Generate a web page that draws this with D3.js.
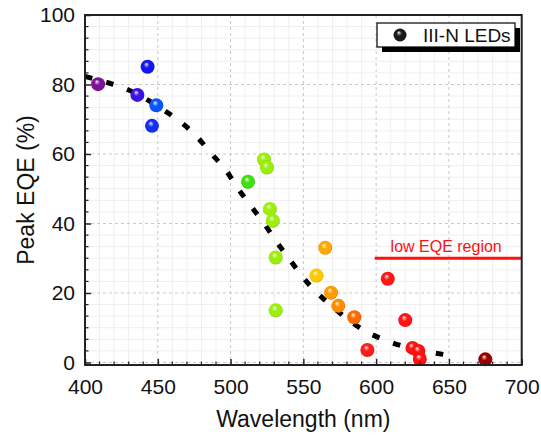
<!DOCTYPE html>
<html>
<head>
<meta charset="utf-8">
<script src="https://cdn.jsdelivr.net/npm/d3@7"></script>
<style>
  html, body { margin: 0; padding: 0; background: #fff; }
  svg { display: block; font-family: "Liberation Sans", Arial, sans-serif; }
</style>
</head>
<body>
<svg id="chart" width="541" height="437"></svg>
<script>
// Peak EQE of III-N LEDs versus emission wavelength
const wavelength = [409, 436, 443, 449, 446, 512, 523, 525, 527, 529, 531, 531, 559, 565, 569, 574, 585, 594, 608, 620, 625, 629, 630, 675];
const peakEQE    = [80.1, 77.0, 85.1, 74.0, 68.1, 52.0, 58.4, 56.1, 44.2, 40.8, 30.2, 15.0, 25.0, 33.0, 20.1, 16.3, 13.0, 3.6, 24.1, 12.2, 4.2, 3.3, 1.0, 0.9];

// trend line drawn through the data
const trendX = [400, 415, 430, 453, 467, 477, 487, 497, 505, 514, 523, 531, 540, 549, 559, 570, 582, 595, 609, 624, 638, 655];
const trendY = [82.3, 80.6, 78.4, 72.9, 68.8, 64.9, 60.0, 55.2, 50.1, 45.0, 40.0, 35.1, 30.0, 24.9, 20.2, 16.1, 11.9, 8.5, 6.0, 4.1, 2.9, 1.8];

const xTicks = [400, 450, 500, 550, 600, 650, 700];
const yTicks = [0, 20, 40, 60, 80, 100];

// low-efficiency band marker
const lowRegionStart = 599;
const lowRegionEQE = 30;

const svg = d3.select("#chart");
const M = { left: 85, right: 19.3, top: 15, bottom: 72 };
const W = 541, H = 437;

const x = d3.scaleLinear().domain([400, 700]).range([M.left, W - M.right]);
const y = d3.scaleLinear().domain([-0.72, 100]).range([H - M.bottom, M.top]);

// emission colour for each wavelength
const specColor = d3.scaleLinear()
  .domain([409, 436, 443, 446, 449, 512, 523, 531, 559, 565, 574, 585, 594, 630, 675])
  .range(["#7d1299", "#3b12e6", "#1616f0", "#1430f5", "#0a55ff", "#3ee010", "#9cef0a", "#9cef0a",
          "#ffc800", "#ffa800", "#ff8a00", "#ff6a00", "#ff1c1c", "#ff1010", "#9a0000"])
  .clamp(true);

const defs = svg.append("defs");
function sphereFill(id, c) {
  const base = d3.color(c);
  const g = defs.append("radialGradient").attr("id", id)
    .attr("cx", "50%").attr("cy", "50%").attr("r", "55%")
    .attr("fx", "40%").attr("fy", "30%");
  g.append("stop").attr("offset", "0%").attr("stop-color", "#ffffff");
  g.append("stop").attr("offset", "14%").attr("stop-color", d3.interpolateRgb("#ffffff", base)(0.45));
  g.append("stop").attr("offset", "38%").attr("stop-color", base.formatHex());
  g.append("stop").attr("offset", "80%").attr("stop-color", base.formatHex());
  g.append("stop").attr("offset", "100%").attr("stop-color", base.darker(0.9).formatHex());
  return `url(#${id})`;
}

const x0 = x.range()[0], x1 = x.range()[1];
const yTop = y(100), yBot = y.range()[0];

// minor grid
const gridG = svg.append("g");
d3.range(410, 700, 10).filter(v => v % 50 !== 0).forEach(v => {
  gridG.append("line").attr("x1", x(v)).attr("x2", x(v)).attr("y1", yTop).attr("y2", yBot)
    .attr("stroke", "#efefef").attr("stroke-width", 1);
});
d3.range(0, 100, 20 / 6).forEach((v, i) => {
  if (i % 6 === 0) return;
  gridG.append("line").attr("x1", x0).attr("x2", x1).attr("y1", y(v)).attr("y2", y(v))
    .attr("stroke", "#efefef").attr("stroke-width", 1);
});
// major grid
xTicks.slice(1, -1).forEach(v => {
  gridG.append("line").attr("x1", x(v)).attr("x2", x(v)).attr("y1", yTop).attr("y2", yBot)
    .attr("stroke", "#c8c8c8").attr("stroke-width", 1).attr("stroke-dasharray", "3,3");
});
yTicks.slice(0, -1).forEach(v => {
  gridG.append("line").attr("x1", x0).attr("x2", x1).attr("y1", y(v)).attr("y2", y(v))
    .attr("stroke", "#c8c8c8").attr("stroke-width", 1).attr("stroke-dasharray", "3,3");
});

// trend line
const clip = defs.append("clipPath").attr("id", "plotClip");
clip.append("rect").attr("x", x0).attr("y", yTop).attr("width", x1 - x0).attr("height", yBot - yTop);
const line = d3.line().x((d, i) => x(trendX[i])).y((d, i) => y(trendY[i])).curve(d3.curveMonotoneX);
svg.append("path").attr("d", line(trendX)).attr("clip-path", "url(#plotClip)")
  .attr("fill", "none").attr("stroke", "#000").attr("stroke-width", 5)
  .attr("stroke-dasharray", "7.5,14.5");

// low EQE region marker
svg.append("line").attr("x1", x(lowRegionStart)).attr("x2", x1)
  .attr("y1", y(lowRegionEQE)).attr("y2", y(lowRegionEQE))
  .attr("stroke", "#ff1010").attr("stroke-width", 3);
svg.append("text").attr("x", (x(lowRegionStart) + x1) / 2 - 2).attr("y", y(lowRegionEQE) - 6.5)
  .attr("text-anchor", "middle").attr("font-size", 16).attr("fill", "#ff1010")
  .text("low EQE region");

// data spheres
const pts = svg.append("g");
wavelength.forEach((w, i) => {
  pts.append("circle").attr("cx", x(w)).attr("cy", y(peakEQE[i])).attr("r", 7)
    .attr("fill", sphereFill("s" + i, specColor(w)));
});

// axes
const axisBottom = d3.axisBottom(x).tickValues(xTicks).tickSize(-6).tickPadding(14).tickFormat(d3.format("d"));
const axisLeft = d3.axisLeft(y).tickValues(yTicks).tickSize(-6).tickPadding(10).tickFormat(d3.format("d"));

const gx = svg.append("g").attr("transform", `translate(0,${yBot})`).call(axisBottom);
const gy = svg.append("g").attr("transform", `translate(${x0},0)`).call(axisLeft);
[gx, gy].forEach(g => {
  g.select(".domain").remove();
  g.selectAll(".tick line").attr("stroke", "#222").attr("stroke-width", 1.5);
  g.selectAll(".tick text").attr("font-size", 21).attr("fill", "#111")
    .attr("font-family", "Liberation Sans, Arial, sans-serif");
});
gx.selectAll(".tick text").attr("dy", "0.71em");

// minor ticks
d3.range(410, 700, 10).filter(v => v % 50 !== 0).forEach(v => {
  svg.append("line").attr("x1", x(v)).attr("x2", x(v)).attr("y1", yBot).attr("y2", yBot - 3.5)
    .attr("stroke", "#222").attr("stroke-width", 1.2);
});
d3.range(0, 100, 20 / 6).forEach((v, i) => {
  if (i % 6 === 0) return;
  svg.append("line").attr("x1", x0).attr("x2", x0 + 3.5).attr("y1", y(v)).attr("y2", y(v))
    .attr("stroke", "#222").attr("stroke-width", 1.2);
});

// frame
svg.append("rect").attr("x", x0).attr("y", yTop).attr("width", x1 - x0).attr("height", yBot - yTop)
  .attr("fill", "none").attr("stroke", "#222").attr("stroke-width", 2);

// axis titles
svg.append("text").attr("x", (x0 + x1) / 2).attr("y", 427).attr("text-anchor", "middle")
  .attr("font-size", 23).attr("fill", "#111").text("Wavelength (nm)");
svg.append("text").attr("transform", `translate(34,${(yTop + yBot) / 2}) rotate(-90)`)
  .attr("text-anchor", "middle").attr("font-size", 23).attr("fill", "#111").text("Peak EQE (%)");

// legend
const lg = svg.append("g");
lg.append("rect").attr("x", 382).attr("y", 28).attr("width", 138).attr("height", 24).attr("fill", "#000");
lg.append("rect").attr("x", 377).attr("y", 23).attr("width", 138).attr("height", 24)
  .attr("fill", "#fff").attr("stroke", "#000").attr("stroke-width", 1.2);
lg.append("circle").attr("cx", 400).attr("cy", 35).attr("r", 6.5).attr("fill", sphereFill("legendSphere", "#1a1a1a"));
lg.append("text").attr("x", 423).attr("y", 42).attr("font-size", 19).attr("fill", "#111").text("III-N LEDs");
</script>
</body>
</html>
